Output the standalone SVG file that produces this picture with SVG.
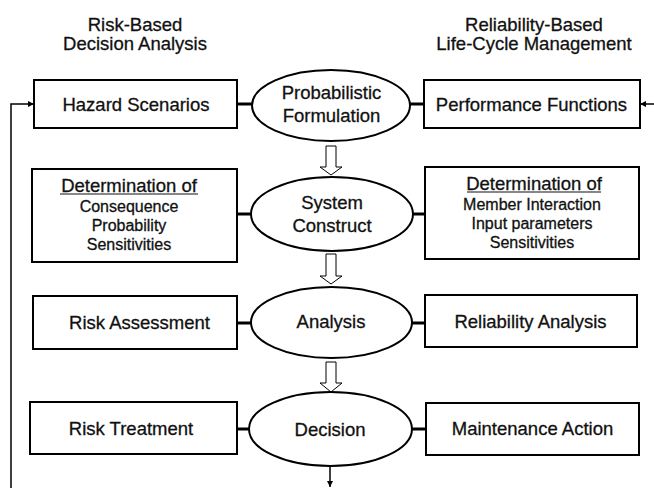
<svg xmlns="http://www.w3.org/2000/svg" width="654" height="488" viewBox="0 0 654 488">
  <defs>
    <marker id="tip" viewBox="0 0 10 10" refX="10" refY="5" markerWidth="6" markerHeight="6" markerUnits="userSpaceOnUse" orient="auto">
      <path d="M0,0 L10,5 L0,10 Z" fill="#000"/>
    </marker>
    <style>
      text { font-family: "Liberation Sans", Arial, sans-serif; fill: #111; stroke: #111; stroke-width: 0.3; text-anchor: middle; }
      .hd { font-size: 18.5px; }
      .lb { font-size: 18.5px; }
      .sm { font-size: 16px; }
      .box { fill: #fff; stroke: #000; stroke-width: 2; }
      .oval { fill: #fff; stroke: #000; stroke-width: 2; }
      .stub { stroke: #000; stroke-width: 3; fill: none; }
      .flow { fill: #fff; stroke: #000; stroke-width: 1; }
      .wire { stroke: #000; stroke-width: 1.5; fill: none; }
    </style>
  </defs>

  <!-- column headings -->
  <g id="heading-left">
    <text class="hd" x="135" y="31">Risk-Based</text>
    <text class="hd" x="135" y="50">Decision Analysis</text>
  </g>
  <g id="heading-right">
    <text class="hd" x="534" y="31">Reliability-Based</text>
    <text class="hd" x="534" y="50">Life-Cycle Management</text>
  </g>

  <!-- connectors -->
  <g id="connectors">
    <!-- stubs linking side boxes to the central ovals -->
    <line class="stub" x1="237" y1="104" x2="253" y2="104"/>
    <line class="stub" x1="409" y1="104" x2="424" y2="104"/>
    <line class="stub" x1="237" y1="214" x2="252" y2="214"/>
    <line class="stub" x1="412" y1="214" x2="425" y2="214"/>
    <line class="stub" x1="237" y1="323" x2="252" y2="323"/>
    <line class="stub" x1="411" y1="323" x2="425" y2="323"/>
    <line class="stub" x1="237" y1="429" x2="250" y2="429"/>
    <line class="stub" x1="411" y1="429" x2="426" y2="429"/>

    <!-- hollow block arrows between stages -->
    <path class="flow" d="M326,146 H336 V167 H342 L331,175 L320,167 H326 Z"/>
    <path class="flow" d="M326,254 H336 V276 H342 L331,284 L320,276 H326 Z"/>
    <path class="flow" d="M326,362 H336 V383 H342 L331,392 L320,383 H326 Z"/>

    <!-- output arrow below Decision -->
    <line class="wire" x1="330" y1="466" x2="330" y2="487" marker-end="url(#tip)"/>

    <!-- feedback loop into Hazard Scenarios -->
    <polyline class="wire" points="11,488 11,104 34,104" marker-end="url(#tip)"/>

    <!-- input into Performance Functions -->
    <line class="wire" x1="654" y1="104" x2="640" y2="104" marker-end="url(#tip)"/>
  </g>

  <!-- central stages -->
  <g id="probabilistic-formulation">
    <ellipse class="oval" cx="331" cy="105.5" rx="79" ry="35.5"/>
    <text class="lb" x="331.5" y="99">Probabilistic</text>
    <text class="lb" x="331.5" y="122">Formulation</text>
  </g>
  <g id="system-construct">
    <ellipse class="oval" cx="332" cy="214" rx="81" ry="37"/>
    <text class="lb" x="332" y="209">System</text>
    <text class="lb" x="332" y="232">Construct</text>
  </g>
  <g id="analysis">
    <ellipse class="oval" cx="331.5" cy="322.5" rx="80.5" ry="35.5"/>
    <text class="lb" x="331" y="328">Analysis</text>
  </g>
  <g id="decision">
    <ellipse class="oval" cx="330.5" cy="429" rx="81.5" ry="37"/>
    <text class="lb" x="330" y="436">Decision</text>
  </g>

  <!-- risk-based column -->
  <g id="hazard-scenarios">
    <rect class="box" x="34" y="80" width="203" height="48"/>
    <text class="lb" x="136" y="111">Hazard Scenarios</text>
  </g>
  <g id="risk-determination">
    <rect class="box" x="32" y="169" width="205" height="93"/>
    <text class="lb" x="129" y="192">Determination of</text>
    <line x1="60" y1="194" x2="198" y2="194" stroke="#111" stroke-width="1.2"/>
    <text class="sm" x="129" y="212">Consequence</text>
    <text class="sm" x="129" y="231">Probability</text>
    <text class="sm" x="129" y="250">Sensitivities</text>
  </g>
  <g id="risk-assessment">
    <rect class="box" x="33" y="296" width="204" height="53"/>
    <text class="lb" x="139.5" y="329">Risk Assessment</text>
  </g>
  <g id="risk-treatment">
    <rect class="box" x="30" y="402" width="207" height="52"/>
    <text class="lb" x="131" y="435">Risk Treatment</text>
  </g>

  <!-- reliability-based column -->
  <g id="performance-functions">
    <rect class="box" x="424" y="80" width="216" height="48" stroke-width="2.5"/>
    <text class="lb" x="531.5" y="111">Performance Functions</text>
  </g>
  <g id="reliability-determination">
    <rect class="box" x="425" y="167" width="214" height="92"/>
    <text class="lb" x="534" y="190">Determination of</text>
    <line x1="467" y1="192" x2="601" y2="192" stroke="#111" stroke-width="1.2"/>
    <text class="sm" x="532" y="210">Member Interaction</text>
    <text class="sm" x="532" y="229">Input parameters</text>
    <text class="sm" x="532" y="248">Sensitivities</text>
  </g>
  <g id="reliability-analysis">
    <rect class="box" x="425" y="295" width="212" height="52"/>
    <text class="lb" x="530.5" y="328">Reliability Analysis</text>
  </g>
  <g id="maintenance-action">
    <rect class="box" x="426" y="403" width="213" height="52"/>
    <text class="lb" x="532.5" y="435">Maintenance Action</text>
  </g>
</svg>
